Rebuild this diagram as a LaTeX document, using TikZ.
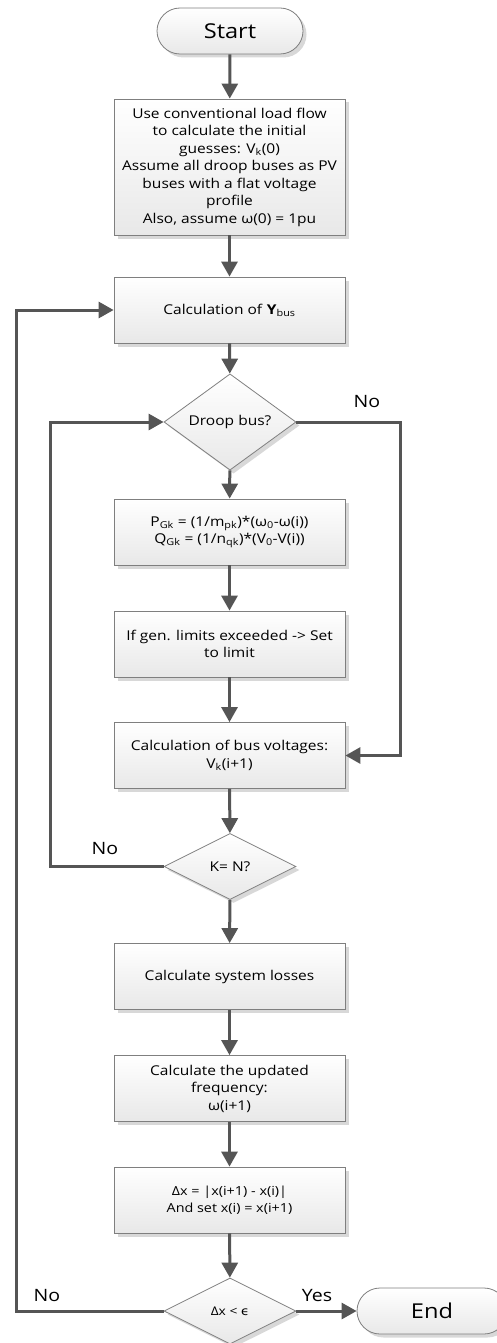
\documentclass[tikz,border=0pt]{standalone}
\usepackage{fontspec}
\setmainfont{Open Sans}[FakeStretch=1.15]
\newfontfamily\dv{DejaVu Sans}[FakeStretch=1.1]
\usetikzlibrary{shapes.geometric,shadows,arrows.meta}
\definecolor{arrowgray}{HTML}{555555}
\definecolor{bordergray}{HTML}{7F7F7F}
\definecolor{shadowgray}{HTML}{D8D8D8}
\tikzset{
  base/.style={draw=bordergray, line width=0.8pt, top color=white, bottom color=black!9,
    drop shadow={shadow xshift=3.5pt, shadow yshift=-3.5pt, fill=shadowgray, opacity=1},
    inner sep=0pt, align=center, font=\fontsize{13.5}{17.5}\selectfont},
  procbox/.style={base, rectangle, minimum width=231, minimum height=66},
  decision/.style={base, diamond, minimum width=132, minimum height=66},
  terminal/.style={base, rectangle, rounded corners=23pt, minimum height=46, font=\fontsize{20.5}{24}\selectfont},
  arr/.style={draw=arrowgray, line width=3pt, -{Triangle[width=16pt,length=15pt]}},
  lbl/.style={font=\fontsize{17}{20}\selectfont, inner sep=0pt}
}
\begin{document}
\begin{tikzpicture}[x=1pt, y=-1pt]
\useasboundingbox (0,0) rectangle (496,1343);
\node[terminal, minimum width=146] (start) at (230,31) {Start};
\node[procbox, minimum height=136] (b1) at (229.5,167) {Use conventional load flow\\to calculate the initial\\guesses: V\textsubscript{k}(0)\\Assume all droop buses as PV\\buses with a flat voltage\\profile\\Also, assume ω(0) = 1pu};
\node[procbox] (ybus) at (229.5,310) {Calculation of \textbf{Y}\textsubscript{bus}};
\node[decision] (droop) at (230,422) {Droop bus?};
\node[procbox] (pq) at (229.5,532) {P\textsubscript{Gk} = (1/m\textsubscript{pk})*(ω\textsubscript{0}-ω(i))\\Q\textsubscript{Gk} = (1/n\textsubscript{qk})*(V\textsubscript{0}-V(i))};
\node[procbox] (gen) at (229.5,644) {If gen. limits exceeded -> Set\\to limit};
\node[procbox] (busv) at (229.5,755.5) {Calculation of bus voltages:\\V\textsubscript{k}(i+1)};
\node[decision] (kn) at (230,866.5) {K= N?};
\node[procbox] (loss) at (229.5,976.5) {Calculate system losses};
\node[procbox] (freq) at (229.5,1088.5) {Calculate the updated\\frequency:\\ω(i+1)};
\node[procbox, font=\fontsize{12.5}{17.5}\selectfont] (dx) at (229.5,1200) {Δx = |x(i+1) - x(i)|\\And set x(i) = x(i+1)};
\node[decision, font=\fontsize{12}{15}\selectfont] (conv) at (230,1311) {Δx < {\dv ϵ}};
\node[terminal, minimum width=150] (end) at (432,1311) {End};

\coordinate (oL) at (16,0);
\coordinate (iL) at (50,0);
\coordinate (rL) at (400,0);

\draw[arr] (start) -- (b1);
\draw[arr] (b1) -- (ybus);
\draw[arr] (ybus) -- (droop);
\draw[arr] (droop) -- (pq);
\draw[arr] (pq) -- (gen);
\draw[arr] (gen) -- (busv);
\draw[arr] (busv) -- (kn);
\draw[arr] (kn) -- (loss);
\draw[arr] (loss) -- (freq);
\draw[arr] (freq) -- (dx);
\draw[arr] (dx) -- (conv);
\draw[arr] (conv) -- (end);
\draw[arr] (conv.west) -- (conv.west -| oL) -- (ybus.west -| oL) -- (ybus.west);
\draw[arr] (kn.west) -- (kn.west -| iL) -- (droop.west -| iL) -- (droop.west);
\draw[arr] (droop.east) -- (droop.east -| rL) -- (busv.east -| rL) -- (busv.east);

\node[lbl] (noR) at (367,402) {No};
\node[lbl] (noK) at (105,849) {No};
\node[lbl] (noC) at (47,1295) {No};
\node[lbl] (yes) at (317,1295) {Yes};
\end{tikzpicture}
\end{document}
